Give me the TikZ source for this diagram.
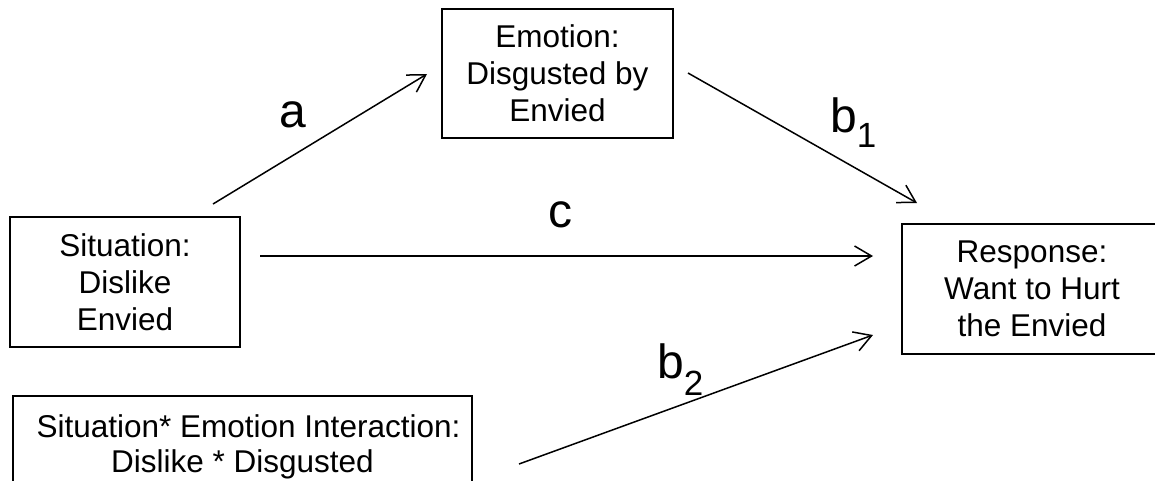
\documentclass[tikz,border=0pt]{standalone}
\usepackage{fontspec}
\setmainfont{Liberation Sans}
\usetikzlibrary{arrows.meta}
\begin{document}
\begin{tikzpicture}[x=1pt,y=-1pt,
  box/.style={draw, line width=1.5pt, align=center, font=\fontsize{31.5}{37}\selectfont, inner sep=0pt},
  arr/.style={line width=1.5pt, -{Straight Barb[length=17pt,width=20pt]}},
  lab/.style={font=\fontsize{48}{48}\selectfont, inner sep=0pt},
]
\useasboundingbox (0,0) rectangle (1155,480);
\clip (0,0) rectangle (1155,480);
\node[box, minimum width=230pt, minimum height=130pt] (sit) at (125,282) {Situation:\\Dislike\\Envied};
\node[box, minimum width=231pt, minimum height=129pt] (emo) at (557.5,73.5) {Emotion:\\Disgusted by\\Envied};
\node[box, minimum width=260pt, minimum height=130pt] (resp) at (1032,289) {Response:\\Want to Hurt\\the Envied};
\node[box, minimum width=459pt, minimum height=102pt, font=\fontsize{31.5}{35}\selectfont] (inter) at (242.5,447) {\hspace*{12pt}Situation* Emotion Interaction:\\Dislike * Disgusted};

\coordinate (a0) at (213,204);
\coordinate (a1) at (427,74);
\coordinate (b10) at (688,73);
\coordinate (b11) at (917,203);
\coordinate (c0) at (260,256);
\coordinate (c1) at (873,256);
\coordinate (b20) at (519,464);
\coordinate (b21) at (873,335);

\draw[arr] (a0) -- (a1);
\draw[arr] (b10) -- (b11);
\draw[arr] (c0) -- (c1);
\draw[arr] (b20) -- (b21);

\node[lab, anchor=base] (la) at (293,127) {a};
\node[lab, anchor=base] (lc) at (560,227) {c};
\node[lab, anchor=base west] (lb1) at (830,132) {b\raisebox{-15pt}{\fontsize{35}{35}\selectfont 1}};
\node[lab, anchor=base west] (lb2) at (657,378) {b\raisebox{-17pt}{\fontsize{35}{35}\selectfont 2}};
\end{tikzpicture}
\end{document}
